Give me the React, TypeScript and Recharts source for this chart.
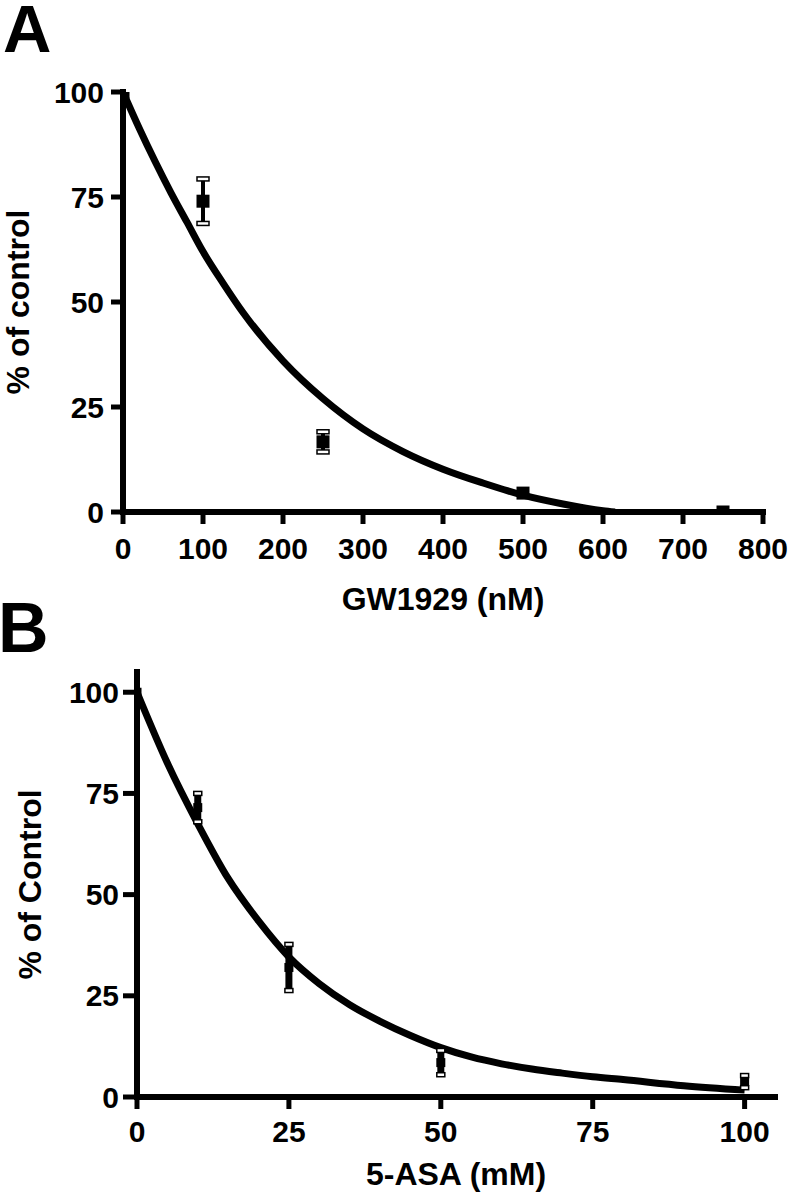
import React from 'react'
import { ComposedChart, Line, Scatter, ErrorBar, XAxis, YAxis } from 'recharts'

// Panel A: GW1929 (nM)
const gwDose = [0, 100, 250, 500, 750]
const gwMean = [100, 74, 16.7, 4.5, 0]
const gwErr = [0, 5.3, 2.4, 0, 0]
const gwCurveX = [0, 20, 40, 60, 80, 100, 125, 150, 200, 250, 300, 350, 400, 450, 500, 550, 600, 615]
const gwCurveY = [100, 91.5, 83.5, 76, 69, 62, 54.5, 47.5, 36, 27, 19.8, 14.4, 10.2, 6.9, 4.0, 1.9, 0.3, 0]
const gwXTicks = [0, 100, 200, 300, 400, 500, 600, 700, 800]

// Panel B: 5-ASA (mM)
const asaDose = [0, 10, 25, 50, 100]
const asaMean = [100, 71.5, 32, 8.5, 3.8]
const asaErr = [0, 3.5, 5.7, 3, 1.5]
const asaCurveX = [0, 5, 10, 15, 20, 25, 30, 35, 40, 45, 50, 55, 60, 65, 70, 75, 80, 90, 100]
const asaCurveY = [100, 82.5, 67.5, 54, 43.5, 34.6, 28, 22.8, 18.7, 15.2, 12.2, 9.9, 8.2, 6.9, 5.9, 5.0, 4.3, 2.8, 1.7]
const asaXTicks = [0, 25, 50, 75, 100]

const yTicks = [0, 25, 50, 75, 100]

const FONT = '"Liberation Sans", Arial, sans-serif'

const zip = (xs: number[], ys: number[], es?: number[]) =>
  xs.map((x, i) => ({ x, y: ys[i], err: es ? es[i] : 0 }))

const capsOf = (pts: { x: number; y: number; err: number }[]) =>
  pts.filter((p) => p.err > 0).flatMap((p) => [
    { x: p.x, y: p.y + p.err },
    { x: p.x, y: p.y - p.err },
  ])

const square = (size: number) => (props: any) => {
  const { cx, cy } = props
  return <rect x={cx - size / 2} y={cy - size / 2} width={size} height={size} fill="#000" />
}

const cap = (w: number) => (props: any) => {
  const { cx, cy } = props
  return <rect x={cx - w / 2} y={cy - 2} width={w} height={4} fill="#fff" stroke="#000" strokeWidth={1.5} />
}

const tickStyle = { fontSize: 30, fontWeight: 'bold', fill: '#000', fontFamily: FONT }
const titleStyle = { fontSize: 32, fontWeight: 'bold', fill: '#000', fontFamily: FONT }
const axisLine = { stroke: '#000', strokeWidth: 6, strokeLinecap: 'square' as const }
const tickLine = { stroke: '#000', strokeWidth: 5 }

export default function App() {
  const gwPts = zip(gwDose, gwMean, gwErr)
  const gwCurve = zip(gwCurveX, gwCurveY)
  const asaPts = zip(asaDose, asaMean, asaErr)
  const asaCurve = zip(asaCurveX, asaCurveY)

  return (
    <div style={{ position: 'absolute', left: 0, top: 0, width: 790, height: 1199, background: '#fff', overflow: 'hidden' }}>
      <div style={{ position: 'absolute', left: 0, top: 0 }}>
        <ComposedChart width={790} height={640} margin={{ top: 92, right: 27, bottom: 18, left: 0 }}>
          <XAxis
            type="number"
            dataKey="x"
            domain={[0, 800]}
            ticks={gwXTicks}
            interval={0}
            allowDataOverflow
            height={110}
            tickSize={12}
            tickMargin={14}
            tick={tickStyle}
            axisLine={axisLine}
            tickLine={tickLine}
            label={{ value: 'GW1929 (nM)', position: 'insideBottom', offset: 12, style: titleStyle }}
          />
          <YAxis
            type="number"
            domain={[0, 100]}
            ticks={yTicks}
            interval={0}
            allowDataOverflow
            width={123}
            tickSize={12}
            tickMargin={7}
            tick={tickStyle}
            axisLine={axisLine}
            tickLine={tickLine}
            label={{ value: '% of control', angle: -90, position: 'insideLeft', offset: 18, textAnchor: 'middle', style: titleStyle }}
          />
          <Line data={gwCurve} dataKey="y" type="monotone" stroke="#000" strokeWidth={7} dot={false} isAnimationActive={false} />
          <Scatter data={gwPts} dataKey="y" shape={square(13)} isAnimationActive={false}>
            <ErrorBar dataKey="err" direction="y" width={0} strokeWidth={4} stroke="#000" isAnimationActive={false} />
          </Scatter>
          <Scatter data={capsOf(gwPts)} dataKey="y" shape={cap(12)} isAnimationActive={false} />
        </ComposedChart>
      </div>

      <div style={{ position: 'absolute', left: 0, top: 590 }}>
        <ComposedChart width={790} height={609} margin={{ top: 82, right: 15, bottom: 2, left: 0 }}>
          <XAxis
            type="number"
            dataKey="x"
            domain={[0, 105]}
            ticks={asaXTicks}
            interval={0}
            allowDataOverflow
            height={100}
            tickSize={12}
            tickMargin={12}
            tick={tickStyle}
            axisLine={axisLine}
            tickLine={tickLine}
            label={{ value: '5-ASA (mM)', position: 'insideBottom', offset: 12, style: titleStyle }}
          />
          <YAxis
            type="number"
            domain={[0, 105]}
            ticks={yTicks}
            interval={0}
            allowDataOverflow
            width={137}
            tickSize={14}
            tickMargin={4}
            tick={tickStyle}
            axisLine={axisLine}
            tickLine={tickLine}
            label={{ value: '% of Control', angle: -90, position: 'insideLeft', offset: 30, textAnchor: 'middle', style: titleStyle }}
          />
          <Line data={asaCurve} dataKey="y" type="monotone" stroke="#000" strokeWidth={7} dot={false} isAnimationActive={false} />
          <Scatter data={asaPts} dataKey="y" shape={square(9)} isAnimationActive={false}>
            <ErrorBar dataKey="err" direction="y" width={0} strokeWidth={7} stroke="#000" isAnimationActive={false} />
          </Scatter>
          <Scatter data={capsOf(asaPts)} dataKey="y" shape={cap(8)} isAnimationActive={false} />
        </ComposedChart>
      </div>

      <svg width={790} height={1199} style={{ position: 'absolute', left: 0, top: 0, pointerEvents: 'none' }}>
        <text x={3} y={52} fontSize={67} fontWeight="bold" fontFamily={FONT} fill="#000">A</text>
        <text x={-2} y={652} fontSize={70} fontWeight="bold" fontFamily={FONT} fill="#000">B</text>
      </svg>
    </div>
  )
}
